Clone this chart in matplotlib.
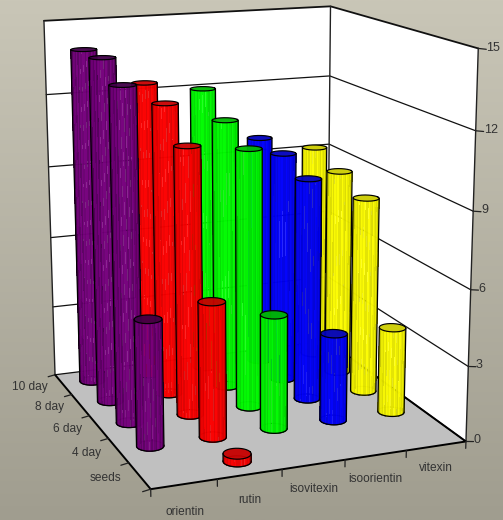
import matplotlib
matplotlib.use('Agg')
import matplotlib.pyplot as plt
import numpy as np
from mpl_toolkits.mplot3d import proj3d
from mpl_toolkits.mplot3d.art3d import Poly3DCollection

W, H = 503, 520

stages = ['seeds', '4 day', '6 day', '8 day', '10 day']
compounds = ['orientin', 'rutin', 'isovitexin', 'isoorientin', 'vitexin']
orientin = [0, 5.0, 13.35, 14.0, 13.95]
rutin = [0.3, 5.4, 10.85, 12.05, 12.45]
isovitexin = [0, 4.6, 10.55, 11.2, 12.05]
isoorientin = [0, 3.55, 9.15, 9.65, 9.8]
vitexin = [0, 3.5, 8.15, 8.7, 9.2]
series = [orientin, rutin, isovitexin, isoorientin, vitexin]
zticks = [0, 3, 6, 9, 12, 15]

side_colors = [(0.40, 0.0, 0.43), (1.0, 0.0, 0.0), (0.0, 1.0, 0.0), (0.0, 0.0, 1.0), (1.0, 1.0, 0.0)]
top_colors = [(0.25, 0.0, 0.28), (0.78, 0.0, 0.0), (0.0, 0.72, 0.0), (0.0, 0.0, 0.74), (0.80, 0.80, 0.0)]
stripes = [1.0, 0.88, 1.0, 0.93, 0.85, 1.0, 0.95, 0.88, 1.0, 0.86, 1.0, 0.93]

fig = plt.figure(figsize=(W / 100, H / 100), dpi=100)
plt.rcParams['font.family'] = ['Liberation Sans', 'DejaVu Sans']

# background gradient
bg = fig.add_axes([0, 0, 1, 1], zorder=-1)
yy = np.linspace(0, 1, 256)[:, None]
c0 = np.array([201, 198, 183]) / 255
c1 = np.array([160, 157, 143]) / 255
bg.imshow((c0 + (c1 - c0) * yy[:, :, None]), aspect='auto')
bg.set_xticks([])
bg.set_yticks([])
bg.axis('off')

ax = fig.add_axes([0, 0, 1, 1], projection='3d', computed_zorder=False)
ax.set_facecolor('none')
ax.set_axis_off()
ax.set_xticks([])
ax.set_yticks([])
ax.set_zticks([])
ax.set_xlim(0, 5)
ax.set_ylim(0, 5)
ax.set_zlim(0, 15)
ax.view_init(14.304, -111.08, 0.106)
ax.set_proj_type('persp', focal_length=0.543)
ax.set_box_aspect((0.837, 0.875, 1))

# place the axes so the box lands where it does in the picture
S, TX, TY = 3165.4, 249.0, 294.8
vl = ax.viewLim
side = S * vl.width
ax.set_position([(TX + vl.x0 * S) / W, (TY + vl.y0 * S) / H, side / W, side / H])
M = ax.get_proj()


def line(xs, ys, zs, lw=0.9, z=1, color='black'):
    ax.plot(xs, ys, zs, color=color, lw=lw, zorder=z, solid_capstyle='round')


def label(x, y, z, s, ha, size=8.6):
    u, v, _ = proj3d.proj_transform(x, y, z, M)
    ax.text2D(u, v, s, transform=ax.transData, ha=ha, va='center', fontsize=size,
              color='#333333', zorder=50)


# walls and floor
ax.add_collection3d(Poly3DCollection([[(0, 5, 0), (5, 5, 0), (5, 5, 15), (0, 5, 15)],
                                      [(5, 0, 0), (5, 5, 0), (5, 5, 15), (5, 0, 15)]],
                                     facecolors='white', linewidths=0, zorder=0))
ax.add_collection3d(Poly3DCollection([[(0, 0, 0), (5, 0, 0), (5, 5, 0), (0, 5, 0)]],
                                     facecolors='#c0c0c0', linewidths=0, zorder=0.1))
for t in zticks:
    line([0, 5, 5], [5, 5, 0], [t, t, t], lw=0.9 if t < 15 else 1.3, z=0.2, color='#111111')
line([0, 0], [5, 5], [0, 15], lw=1.0, z=0.3, color='#222222')
line([5, 5], [5, 5], [0, 15], lw=1.0, z=0.3, color='#222222')
line([5, 5], [0, 0], [0, 15], lw=1.0, z=0.3, color='#222222')
line([0, 0, 5, 5], [5, 0, 0, 5], [0, 0, 0, 0], lw=1.4, z=0.3)

# ticks and labels
for i in range(6):
    line([i, i], [0, 0], [0, -0.28], lw=0.9, z=0.3, color='#222222')
    line([-0.12, 0], [i, i], [-0.05, 0], lw=0.9, z=0.3, color='#222222')
for i, name in enumerate(compounds):
    label(i + 0.5, 0, -0.90 - 0.04 * (4 - i), name, 'center')
for j, name in enumerate(stages):
    label(-0.27, j + 0.5, 0, name, 'right')
for t in zticks:
    line([5, 5.13], [0, 0], [t, t - 0.05], lw=0.9, z=0.3, color='#222222')
    label(5.13, 0, t, str(t), 'left', size=9)

# cylinders, back ones first
R = 0.205
theta = np.linspace(0, 2 * np.pi, 181)
n_facets = 26
for i, vals in enumerate(series):
    for j, h in enumerate(vals):
        if h <= 0:
            continue
        cx, cy = i + 0.5, j + 0.5
        z0 = 10 - (0.36 * cx + 0.93 * cy)
        ring_x = cx + R * np.cos(theta)
        ring_y = cy + R * np.sin(theta)
        u, v, _ = proj3d.proj_transform(ring_x, ring_y, np.zeros_like(ring_x), M)
        a_left = theta[np.argmin(u[:-1])]
        a_right = theta[np.argmax(u[:-1])]
        if a_right < a_left:
            a_right += 2 * np.pi
        # front half goes from left tangent to right tangent through the lowest point
        arc = np.linspace(a_left, a_right, n_facets + 1)
        arc_x = cx + R * np.cos(arc)
        arc_y = cy + R * np.sin(arc)
        step = (a_right - a_left) / n_facets

        line(ring_x, ring_y, np.zeros_like(ring_x), lw=0.8, z=z0)

        verts = []
        cols = []
        base = np.array(side_colors[i])
        for k in range(n_facets):
            # a small overlap so no white hairline opens between two facets
            a1 = arc[k + 1] + 0.25 * step if k < n_facets - 1 else arc[k + 1]
            x1, y1 = cx + R * np.cos(a1), cy + R * np.sin(a1)
            verts.append([(arc_x[k], arc_y[k], 0), (x1, y1, 0), (x1, y1, h), (arc_x[k], arc_y[k], h)])
            t = (k + 0.5) / n_facets * 2 - 1
            st = stripes[k % len(stripes)]
            shade = (1 - 0.3 * abs(t) ** 3) * st
            c = np.clip(base * shade, 0, 1)
            if i == 0:
                c = np.clip(c + np.array([0.5, 0.0, 0.5]) * (st - 0.86), 0, 1)
            cols.append((*c, 0.85))
        ax.add_collection3d(Poly3DCollection(verts, facecolors=cols, linewidths=0,
                                             antialiaseds=False, zorder=z0 + 0.001))
        top = [list(zip(ring_x[:-1], ring_y[:-1], np.full(180, h)))]
        ax.add_collection3d(Poly3DCollection(top, facecolors=[(*top_colors[i], 0.95)], linewidths=0,
                                             zorder=z0 + 0.002))
        line(ring_x, ring_y, np.full_like(ring_x, h), lw=0.85, z=z0 + 0.003)
        line(arc_x, arc_y, np.zeros_like(arc_x), lw=0.9, z=z0 + 0.003)
        line([arc_x[0], arc_x[0]], [arc_y[0], arc_y[0]], [0, h], lw=0.9, z=z0 + 0.003)
        line([arc_x[-1], arc_x[-1]], [arc_y[-1], arc_y[-1]], [0, h], lw=0.9, z=z0 + 0.003)

ax.set_xlim(0, 5)
ax.set_ylim(0, 5)
ax.set_zlim(0, 15)
fig.savefig('out.png', dpi=100)
